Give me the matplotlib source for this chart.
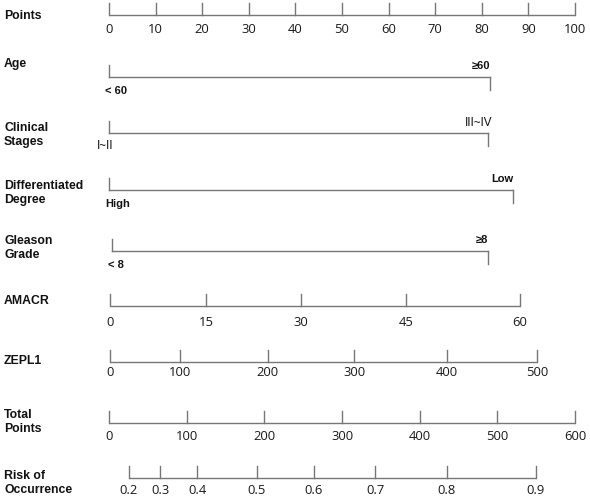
import matplotlib
matplotlib.use("Agg")
import matplotlib.pyplot as plt

# nomogram values (points on the 0-100 scale)
point_ticks = [0, 10, 20, 30, 40, 50, 60, 70, 80, 90, 100]

age_levels = ["< 60", "≥60"]
age_points = [0, 81.8]
stage_levels = ["I~II", "III~IV"]
stage_points = [0, 81.3]
degree_levels = ["High", "Low"]
degree_points = [0, 86.7]
gleason_levels = ["< 8", "≥8"]
gleason_points = [0.6, 81.3]

amacr_values = [0, 15, 30, 45, 60]
amacr_points = [0.2, 20.8, 41.2, 63.7, 88.2]
zepl1_values = [0, 100, 200, 300, 400, 500]
zepl1_points = [0.2, 15.2, 34.1, 52.6, 72.5, 91.8]

total_ticks = [0, 100, 200, 300, 400, 500, 600]
risk_values = [0.2, 0.3, 0.4, 0.5, 0.6, 0.7, 0.8, 0.9]
risk_total = [25.3, 65.9, 113.5, 190.2, 263.4, 342.6, 435.1, 549.5]

LINE = "#777777"
TICK = 12
LAB = dict(family="Liberation Sans", fontweight="bold", fontsize=8.8, color="#111111")
NUM = dict(family="Open Sans", fontsize=9.4, color="#1a1a1a")
LEV = dict(family="Liberation Sans", fontweight="bold", fontsize=8.0, color="#111111")

fig = plt.figure(figsize=(5.9, 4.99), dpi=100)
ax = fig.add_axes([0, 0, 1, 1])
ax.set_xlim(-109 / 4.66, 100 + 15 / 4.66)
ax.set_ylim(499, 0)
ax.axis("off")


def row_label(text, y):
    ax.text(-105 / 4.66, y, text, ha="left", va="center", linespacing=1.25, **LAB)


def scale(xs, labels, y, label_y):
    ax.plot([xs[0], xs[-1]], [y, y], color=LINE, lw=1.0, solid_capstyle="butt")
    for x, lab in zip(xs, labels):
        ax.plot([x, x], [y, y - TICK], color=LINE, lw=1.0)
        ax.text(x, label_y, lab, ha="center", va="center", **NUM)


def binary(pts, levels, y):
    ax.plot([pts[0], pts[1]], [y, y], color=LINE, lw=1.0)
    ax.plot([pts[0], pts[0]], [y, y - TICK], color=LINE, lw=1.0)
    ax.plot([pts[1], pts[1]], [y, y + TICK + 1], color=LINE, lw=1.0)
    ax.text(pts[1], y - 11, levels[1], ha="right", va="center", **LEV)
    ax.text(pts[0] - 0.9, y + 14, levels[0], ha="left", va="center", **LEV)


row_label("Points", 16)
scale(point_ticks, [str(v) for v in point_ticks], 15, 29)

row_label("Age", 64)
binary(age_points, age_levels, 77)

row_label("Clinical\nStages", 135)
ax.plot([stage_points[0], stage_points[1]], [133, 133], color=LINE, lw=1.0)
ax.plot([stage_points[0]] * 2, [133, 133 - TICK], color=LINE, lw=1.0)
ax.plot([stage_points[1]] * 2, [133, 133 + TICK + 1], color=LINE, lw=1.0)
ax.text(stage_points[1] + 1, 122.7, stage_levels[1], ha="right", va="center",
        family="Liberation Sans", fontsize=8.4, color="#111111")
ax.text(stage_points[0] - 2.6, 146, stage_levels[0], ha="left", va="center",
        family="Liberation Sans", fontsize=8.4, color="#111111")

row_label("Differentiated\nDegree", 193)
binary(degree_points, degree_levels, 190)

row_label("Gleason\nGrade", 248)
binary(gleason_points, gleason_levels, 251)

row_label("AMACR", 301)
scale(amacr_points, [str(v) for v in amacr_values], 306, 323)

row_label("ZEPL1", 361)
scale(zepl1_points, [str(v) for v in zepl1_values], 362, 373)

row_label("Total\nPoints", 422)
scale([t / 6 for t in total_ticks], [str(v) for v in total_ticks], 423, 437)

row_label("Risk of\nOccurrence", 483)
scale([t / 6 for t in risk_total], [str(v) for v in risk_values], 478, 491)

fig.savefig("out.png", dpi=100, facecolor="white")
